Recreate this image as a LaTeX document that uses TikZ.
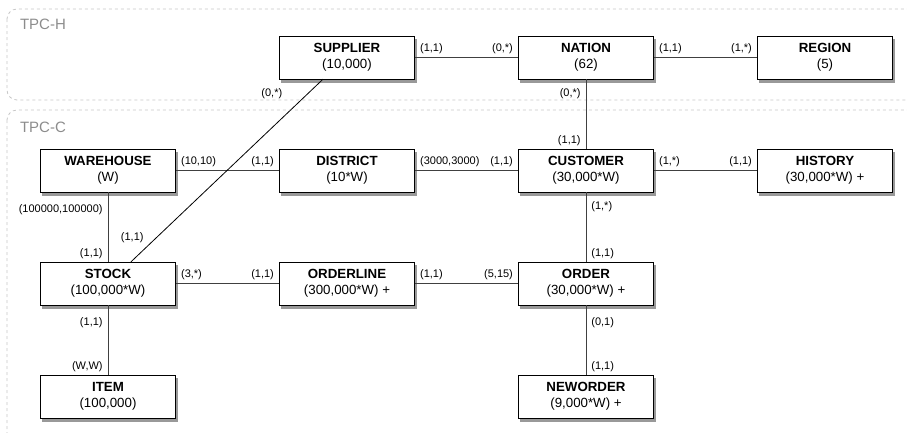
\documentclass[tikz,border=0pt]{standalone}
\usepackage{fontspec}
\setmainfont{Liberation Sans}
\usetikzlibrary{positioning}

\begin{document}
\begin{tikzpicture}[x=1pt,y=1pt,node distance=113pt and 239pt,on grid,
    entity/.style={rectangle,draw=black,fill=white,minimum width=135pt,minimum height=43pt,
      align=center,font=\fontsize{13.3}{16}\selectfont},
    shade box/.style={fill=black!40,draw=none},
    card/.style={font=\fontsize{11}{12}\selectfont,inner xsep=5pt,inner ysep=3pt},
    link/.style={draw=black!75,line width=0.8pt},
    group/.style={draw=black!22,dashed,line width=0.8pt,rounded corners=10pt},
    grouplabel/.style={text=black!45,font=\fontsize{15}{18}\selectfont,anchor=west}]
    \useasboundingbox (0,0) rectangle (907,-432);
    % benchmark groups
    \begin{scope}
      \clip (0,0) rectangle (907,-432);
      \draw[group] (7,-9) rectangle (925,-100);
      \draw[group] (7,-110) rectangle (925,-450);
    \end{scope}
    \node[grouplabel] (tpch) at (16.5,-24)  {TPC-H};
    \node[grouplabel] (tpcc) at (16.5,-127) {TPC-C};

    % shadows first, boxes on top
    \foreach \nx/\ny in {347/57.5,586/57.5,825/57.5,108/170.5,347/170.5,586/170.5,825/170.5,
                         108/283.5,347/283.5,586/283.5,108/396.5,586/396.5}
      \fill[shade box] (\nx-66.5,-\ny-25.5) rectangle (\nx+69.5,-\ny+18.5);

    \node[entity] (supplier)  at (347,-57.5)          {\textbf{SUPPLIER}\\(10,000)};
    \node[entity] (nation)    [right=of supplier]     {\textbf{NATION}\\(62)};
    \node[entity] (region)    [right=of nation]       {\textbf{REGION}\\(5)};
    \node[entity] (district)  [below=of supplier]     {\textbf{DISTRICT}\\(10*W)};
    \node[entity] (warehouse) [left=of district]      {\textbf{WAREHOUSE}\\(W)};
    \node[entity] (customer)  [right=of district]     {\textbf{CUSTOMER}\\(30,000*W)};
    \node[entity] (history)   [right=of customer]     {\textbf{HISTORY}\\(30,000*W) +};
    \node[entity] (stock)     [below=of warehouse]    {\textbf{STOCK}\\(100,000*W)};
    \node[entity] (orderline) [right=of stock]        {\textbf{ORDERLINE}\\(300,000*W) +};
    \node[entity] (order)     [right=of orderline]    {\textbf{ORDER}\\(30,000*W) +};
    \node[entity] (item)      [below=of stock]        {\textbf{ITEM}\\(100,000)};
    \node[entity] (neworder)  [below=of order]        {\textbf{NEWORDER}\\(9,000*W) +};

    \path[link]
    % horizontal edges
    (supplier)  edge node[card,pos=0,above right] {(1,1)}  node[card,pos=1,above left] {(0,*)} (nation)
    (nation)    edge node[card,pos=0,above right] {(1,1)}  node[card,pos=1,above left] {(1,*)} (region)
    (warehouse) edge node[card,pos=0,above right] {(10,10)} node[card,pos=1,above left] {(1,1)} (district)
    (district)  edge node[card,pos=0,above right] {(3000,3000)} node[card,pos=1,above left] {(1,1)} (customer)
    (customer)  edge node[card,pos=0,above right] {(1,*)}  node[card,pos=1,above left] {(1,1)} (history)
    (stock)     edge node[card,pos=0,above right] {(3,*)}  node[card,pos=1,above left] {(1,1)} (orderline)
    (orderline) edge node[card,pos=0,above right] {(1,1)}  node[card,pos=1,above left] {(5,15)} (order)
    % vertical edges
    (nation)    edge node[card,pos=0,below left,yshift=-6pt] {(0,*)} node[card,pos=1,above left] {(1,1)} (customer)
    (warehouse) edge node[card,pos=0,below left,yshift=-9pt] {(100000,100000)} node[card,pos=1,above left] {(1,1)} (stock)
    (stock)     edge node[card,pos=0,below left,yshift=-9pt] {(1,1)} node[card,pos=1,above left] {(W,W)} (item)
    (customer)  edge node[card,pos=0,below right,yshift=-6pt] {(1,*)} node[card,pos=1,above right] {(1,1)} (order)
    (order)     edge node[card,pos=0,below right,yshift=-9pt] {(0,1)} node[card,pos=1,above right] {(1,1)} (neworder);
    % supplier to stock
    \draw[link,draw=black] ([xshift=-24pt]supplier.south) --
      node[card,pos=0.08,left=20pt] {(0,*)}
      node[card,pos=0.87,left=7pt] {(1,1)} ([xshift=23pt]stock.north);
\end{tikzpicture}
\end{document}
